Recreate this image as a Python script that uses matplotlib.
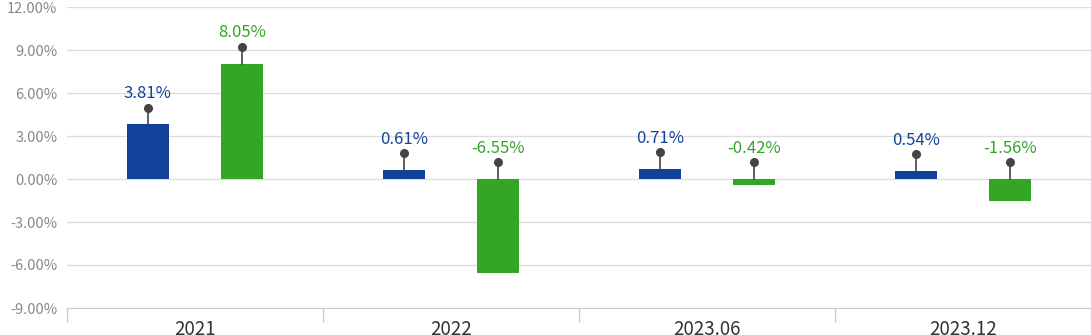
import matplotlib
matplotlib.use("Agg")
import matplotlib.pyplot as plt
from matplotlib.ticker import FixedLocator, FuncFormatter

plt.rcParams['font.family'] = ['Noto Sans CJK KR', 'DejaVu Sans']

categories = ["2021", "2022", "2023.06", "2023.12"]
series_a = [3.81, 0.61, 0.71, 0.54]
series_b = [8.05, -6.55, -0.42, -1.56]
y_ticks = [-9, -6, -3, 0, 3, 6, 9, 12]

color_a = "#12419a"
color_b = "#33a626"
stem_color = "#444444"

fig = plt.figure(figsize=(10.91, 3.35), dpi=100)
ax = fig.add_axes([67 / 1091, 27 / 335, 1024 / 1091, 301 / 335])

centers = [i + 0.5 for i in range(len(categories))]
offset = 0.184
width = 0.164
stem = 1.17
label_gap = 0.98

for vals, col, sign in ((series_a, color_a, -1), (series_b, color_b, 1)):
    xs = [c + sign * offset for c in centers]
    ax.bar(xs, vals, width=width, color=col, zorder=3)
    for x, v in zip(xs, vals):
        base = max(v, 0)
        top = base + stem
        ax.plot([x, x], [base, top], color=stem_color, lw=1.2, zorder=4)
        ax.plot([x], [top], marker='o', ms=5.5, color=stem_color, zorder=5)
        ax.text(x, top + label_gap, f"{v:.2f}%", ha='center', va='center',
                color=col, fontsize=12)

ax.set_xlim(0, 4)
ax.set_ylim(-9, 12)
ax.yaxis.set_major_locator(FixedLocator(y_ticks))
ax.yaxis.set_major_formatter(FuncFormatter(lambda v, p: f"{v:.2f}%"))
ax.grid(axis='y', color='#dddddd', lw=1, zorder=0)
ax.tick_params(axis='y', length=0, pad=7, labelsize=10.5, labelcolor='#888888')

ax.set_xticks(centers)
ax.set_xticklabels(categories)
ax.set_xticks([0, 1, 2, 3, 4], minor=True)
ax.tick_params(axis='x', which='major', length=0, pad=8, labelsize=13.5,
               labelcolor='#333333')
ax.tick_params(axis='x', which='minor', length=10, color='#cccccc', width=1)

for s in ('top', 'right', 'left'):
    ax.spines[s].set_visible(False)
ax.spines['bottom'].set_color('#cccccc')

fig.savefig("out.png", dpi=100)
